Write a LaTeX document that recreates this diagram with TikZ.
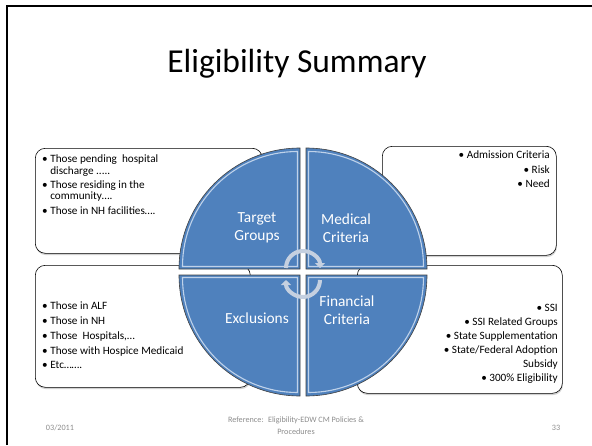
\documentclass[tikz,border=0pt]{standalone}
\usepackage{fontspec}
\setsansfont{Carlito}
\usetikzlibrary{arrows.meta,calc,shadows}
\definecolor{quadblue}{HTML}{4F81BD}
\definecolor{quadrim}{HTML}{BFD2EA}
\definecolor{cyclegray}{HTML}{C5D0E0}
\definecolor{footgray}{HTML}{8C8C8C}
\begin{document}
\begin{tikzpicture}[x=1pt, y=-1pt, font=\sffamily,
	box/.style={draw=black, fill=white, rounded corners=10pt, line width=0.6pt,
		drop shadow={shadow xshift=0.6pt, shadow yshift=-1.8pt, fill=black!30, opacity=0.6}},
	quad/.style={fill=quadblue, draw=black!75, line width=0.6pt},
	rim/.style={draw=quadrim, line width=1.1pt},
	quadtext/.style={text=white, font=\sffamily\fontsize{15.4}{18}\selectfont, align=center},
	itemtext/.style={inner sep=0pt},
	foot/.style={text=footgray, font=\sffamily\fontsize{8.2}{12}\selectfont, inner sep=0pt},
	cyc/.style={draw=cyclegray, line width=4pt, -{Triangle[length=5pt, width=10pt]}}]
	\useasboundingbox (0,0) rectangle (592,445);
	%frame
	\draw[line width=2.4pt] (7,445) -- (7,6) -- (592,6);
	%title
	\node[font=\sffamily\fontsize{33.5}{40}\selectfont, anchor=base] (title) at (297,72) {Eligibility Summary};
	%boxes
	\node[box, anchor=north west, minimum width=227, minimum height=105] (tg box) at (35,148) {};
	\node[box, anchor=north west, minimum width=174, minimum height=109] (mc box) at (382,146) {};
	\node[box, anchor=north west, minimum width=215, minimum height=122] (ex box) at (35,265) {};
	\node[box, anchor=north west, minimum width=205, minimum height=128] (fc box) at (357,265) {};
	%lists
	\node[itemtext, anchor=north west, align=left, font=\sffamily\fontsize{11.2}{11.3}\selectfont] (tg list) at (42,155) {
		\textbullet~Those pending~ hospital\\
		\phantom{\textbullet~}discharge .....\\[3pt]
		\textbullet~Those residing in the\\
		\phantom{\textbullet~}community….\\[3pt]
		\textbullet~Those in NH facilities….};
	\node[itemtext, anchor=north east, align=right, font=\sffamily\fontsize{11.2}{14.5}\selectfont] (mc list) at (550,151) {
		\textbullet~Admission Criteria\\
		\textbullet~Risk\\
		\textbullet~Need};
	\node[itemtext, anchor=north west, align=left, font=\sffamily\fontsize{11.2}{14.7}\selectfont] (ex list) at (42,302) {
		\textbullet~Those in ALF\\
		\textbullet~Those in NH\\
		\textbullet~Those~ Hospitals,…\\
		\textbullet~Those with Hospice Medicaid\\
		\textbullet~Etc…….};
	\node[itemtext, anchor=north east, align=right, font=\sffamily\fontsize{11.2}{14}\selectfont] (fc list) at (558,304) {
		\textbullet~SSI\\
		\textbullet~SSI Related Groups\\
		\textbullet~State Supplementation\\
		\textbullet~State/Federal Adoption\\
		Subsidy\\
		\textbullet~300\% Eligibility};
	%circle
	\coordinate (cen) at (303,272);
	\foreach \a/\dx/\dy in {180/-1/-1, 270/1/-1, 0/1/1, 90/-1/1}{
		\filldraw[quad] ($(cen)+(3*\dx,3*\dy)$) -- ++(\a:121)
			arc[start angle=\a, end angle=\a+90, radius=121] -- cycle;
		\draw[rim] ($(cen)+(5.5*\dx,5.5*\dy)$) -- ++(\a:115)
			arc[start angle=\a, end angle=\a+90, radius=115] -- cycle;
	}
	\node[quadtext] (tg) at (257,228) {Target\\Groups};
	\node[quadtext] (mc) at (346,228) {Medical\\Criteria};
	\node[quadtext] (ex) at (257,318) {Exclusions};
	\node[quadtext] (fc) at (347,310) {Financial\\Criteria};
	%cycle
	\draw[cyc] (286,268) arc[start angle=180, end angle=360, radius=17];
	\draw[cyc] (320,280) arc[start angle=0, end angle=180, radius=17];
	%footer
	\node[foot] (date) at (60,428) {03/2011};
	\node[foot, align=center] (ref) at (296,426) {Reference:~ Eligibility-EDW CM Policies \&\\Procedures};
	\node[foot] (page) at (556,428) {33};
\end{tikzpicture}
\end{document}
